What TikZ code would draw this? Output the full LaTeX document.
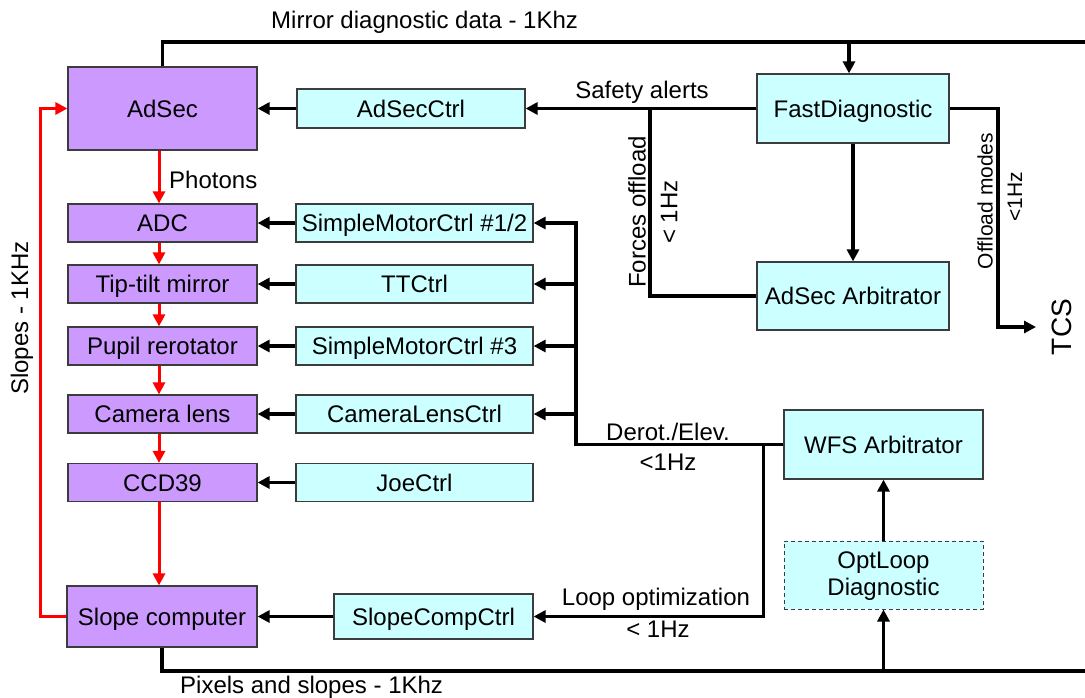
\documentclass[tikz,border=0pt]{standalone}
\usepackage{fontspec}
\setmainfont{Liberation Sans}
\usetikzlibrary{arrows.meta}
\definecolor{purp}{RGB}{204,153,255}
\definecolor{cyanb}{RGB}{204,255,255}
\definecolor{bord}{RGB}{60,60,60}
\begin{document}
\begin{tikzpicture}[x=1pt,y=-1pt,
 box/.style={draw=bord,line width=1.2pt,inner sep=0pt,font=\fontsize{24}{27}\selectfont,align=center},
 pbox/.style={box,fill=purp,text height=17pt,text depth=0pt},
 cbox/.style={box,fill=cyanb,text height=17pt,text depth=0pt},
 ln/.style={line width=3.5pt},
 arr/.style={ln,-{Triangle[length=12pt,width=12pt]}},
 rarr/.style={line width=3pt,red,-{Triangle[length=12pt,width=12pt]}},
 lbl/.style={font=\fontsize{24}{27}\selectfont,inner sep=0pt},
 slbl/.style={font=\fontsize{21}{24}\selectfont,inner sep=0pt}]
\useasboundingbox (0,0) rectangle (1085,697);

% purple boxes
\node[pbox,minimum width=189pt,minimum height=83pt] (adsec) at (162.5,108.5) {AdSec};
\node[pbox,minimum width=189pt,minimum height=38pt] (adc) at (162.5,223) {ADC};
\node[pbox,minimum width=189pt,minimum height=38pt] (tt) at (162.5,284) {Tip-tilt mirror};
\node[pbox,minimum width=189pt,minimum height=38pt] (pupil) at (162.5,346) {Pupil rerotator};
\node[pbox,minimum width=189pt,minimum height=38pt] (cam) at (162.5,414) {Camera lens};
\node[pbox,minimum width=189pt,minimum height=38pt] (ccd) at (162.5,482.5) {CCD39};
\node[pbox,minimum width=190pt,minimum height=61pt] (slope) at (162,616.5) {Slope computer};

% cyan boxes
\node[cbox,minimum width=228pt,minimum height=39pt] (adsecctrl) at (411,108.5) {AdSecCtrl};
\node[cbox,minimum width=237pt,minimum height=38pt] (smc12) at (414.5,223) {SimpleMotorCtrl \#1/2};
\node[cbox,minimum width=237pt,minimum height=38pt] (ttctrl) at (414.5,284) {TTCtrl};
\node[cbox,minimum width=237pt,minimum height=38pt] (smc3) at (414.5,346) {SimpleMotorCtrl \#3};
\node[cbox,minimum width=237pt,minimum height=38pt] (camctrl) at (414.5,414) {CameraLensCtrl};
\node[cbox,minimum width=237pt,minimum height=38pt] (joe) at (414.5,482.5) {JoeCtrl};
\node[cbox,minimum width=199pt,minimum height=45pt] (slopectrl) at (433.5,616.5) {SlopeCompCtrl};

\node[cbox,minimum width=192pt,minimum height=69pt] (fastdiag) at (853,108.5) {FastDiagnostic};
\node[cbox,minimum width=192pt,minimum height=68pt] (adsecarb) at (853,296) {AdSec Arbitrator};
\node[cbox,minimum width=199pt,minimum height=69pt] (wfsarb) at (883.5,444.5) {WFS Arbitrator};
\node[box,fill=cyanb,line width=1pt,dashed,dash pattern=on 4pt off 3pt,minimum width=199pt,minimum height=68pt] (optloop) at (883.5,575) {\rule{0pt}{19pt}OptLoop\\Diagnostic};

% coordinates
\coordinate (mright) at (1085,42);
\coordinate (mtap) at (849,42);
\coordinate (ftap) at (650,108.5);
\coordinate (ocor) at (998,327);
\coordinate (tcsend) at (1036,327);
\coordinate (btop) at (576,223);
\coordinate (ltap) at (763.5,444.5);
\coordinate (bright) at (1085,671);
\coordinate (btap) at (883.5,671);
\coordinate (rx) at (159,0);
\coordinate (rl) at (40,0);

% black connectors
\draw[ln] (adsec.north) |- (mright);
\draw[arr] (mtap) -- (mtap |- fastdiag.north);
\draw[arr] (fastdiag.west) -- (adsecctrl.east);
\draw[ln] (ftap) |- (adsecarb.west);
\draw[arr] (adsecctrl.west) -- (adsec.east);
\draw[arr] (fastdiag.south) -- (adsecarb.north);
\draw[arr] (fastdiag.east) -| (ocor) -- (tcsend);

\draw[arr] (wfsarb.west) -| (btop) -- (smc12.east);
\draw[arr] (btop |- ttctrl.east) -- (ttctrl.east);
\draw[arr] (btop |- smc3.east) -- (smc3.east);
\draw[arr] (btop |- camctrl.east) -- (camctrl.east);
\draw[arr] (ltap) |- (slopectrl.east);
\draw[arr] (optloop.north) -- (wfsarb.south);
\draw[ln] (slope.south) |- (bright);
\draw[arr] (btap) -- (optloop.south);

\draw[arr] (smc12.west) -- (adc.east);
\draw[arr] (ttctrl.west) -- (tt.east);
\draw[arr] (smc3.west) -- (pupil.east);
\draw[arr] (camctrl.west) -- (cam.east);
\draw[arr] (joe.west) -- (ccd.east);
\draw[arr] (slopectrl.west) -- (slope.east);

% red connectors
\draw[rarr] (adsec.south -| rx) -- (adc.north -| rx);
\draw[rarr] (adc.south -| rx) -- (tt.north -| rx);
\draw[rarr] (tt.south -| rx) -- (pupil.north -| rx);
\draw[rarr] (pupil.south -| rx) -- (cam.north -| rx);
\draw[rarr] (cam.south -| rx) -- (ccd.north -| rx);
\draw[rarr] (ccd.south -| rx) -- (slope.north -| rx);
\draw[rarr] (slope.west) -- (slope.west -| rl) -- (adsec.west -| rl) -- (adsec.west);

% labels
\node[lbl,anchor=west] (lmirror) at (271,22) {Mirror diagnostic data - 1Khz};
\node[lbl,anchor=west] (lphot) at (169,180) {Photons};
\node[lbl] (lsafe) at (642,92) {Safety alerts};
\node[lbl,rotate=90] (lforce) at (637,212) {Forces offload};
\node[lbl,rotate=90] (lforcehz) at (669,212) {< 1Hz};
\node[slbl,rotate=90] (loff) at (985,201) {Offload modes};
\node[slbl,rotate=90] (loffhz) at (1015,197) {<1Hz};
\node[font=\fontsize{28}{30}\selectfont,rotate=90,inner sep=0pt] (tcs) at (1062,327) {TCS};
\node[lbl] (lderot) at (668,432) {Derot./Elev.};
\node[lbl] (lderothz) at (668,462) {<1Hz};
\node[lbl] (lloop) at (656,599) {Loop optimization};
\node[lbl] (lloophz) at (658,629) {< 1Hz};
\node[lbl,anchor=west] (lpix) at (180,687) {Pixels and slopes - 1Khz};
\node[lbl,rotate=90] (lslopes) at (22,318) {Slopes - 1KHz};
\end{tikzpicture}
\end{document}
